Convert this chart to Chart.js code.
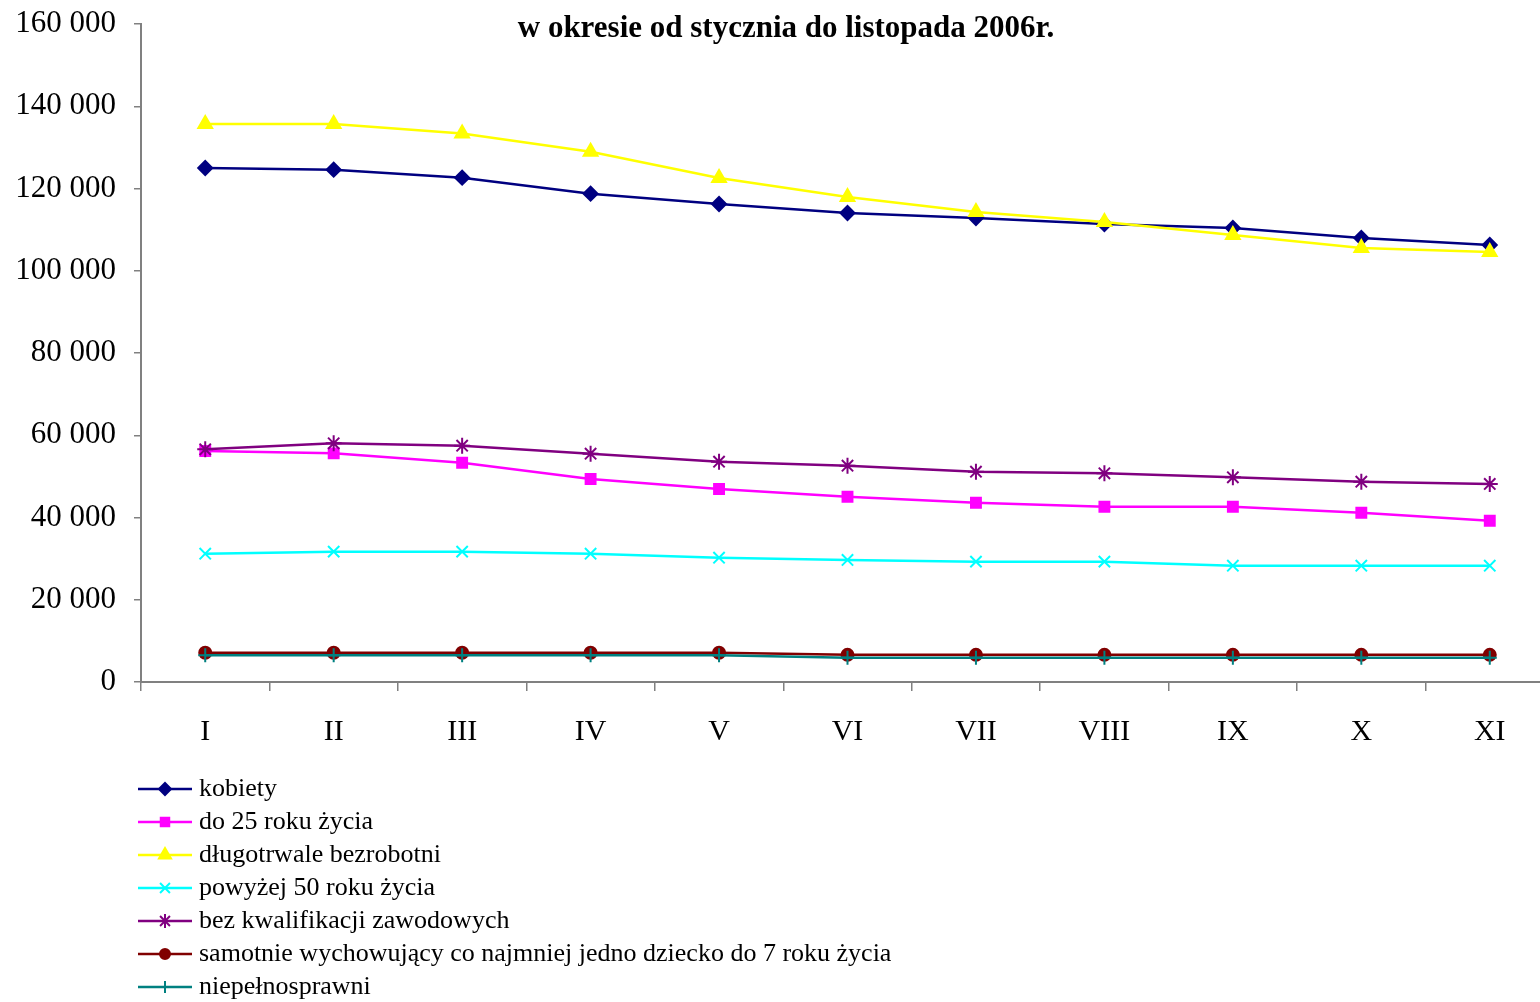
<!DOCTYPE html>
<html lang="pl">
<head>
<meta charset="utf-8">
<title>Bezrobotni w szczególnej sytuacji na rynku pracy 2006</title>
<script src="https://cdn.jsdelivr.net/npm/chart.js@4.4.1/dist/chart.umd.min.js"></script>
<style>
  html, body { margin: 0; padding: 0; background: #fff; overflow: hidden; }
  #wrap { width: 1564px; height: 1002px; }
</style>
</head>
<body>
<div id="wrap"><canvas id="chart" width="1564" height="1002"></canvas></div>
<script>
const months = ['I', 'II', 'III', 'IV', 'V', 'VI', 'VII', 'VIII', 'IX', 'X', 'XI'];

const kobiety = [124980, 124570, 122630, 118740, 116230, 114040, 112830, 111370, 110400, 107960, 106260];
const do25 = [56170, 55600, 53330, 49360, 46930, 45060, 43600, 42630, 42630, 41170, 39220];
const dlugotrwale = [135680, 135680, 133400, 128950, 122550, 117930, 114290, 111850, 108690, 105530, 104560];
const powyzej50 = [31200, 31690, 31690, 31200, 30230, 29670, 29260, 29260, 28280, 28280, 28280];
const bezKwalifikacji = [56580, 58040, 57460, 55510, 53570, 52600, 51140, 50750, 49770, 48710, 48150];
const samotnie = [7100, 7100, 7100, 7100, 7100, 6600, 6600, 6600, 6600, 6600, 6600];
const niepelnosprawni = [6500, 6500, 6500, 6500, 6500, 5900, 5900, 5900, 5900, 5900, 5900];

const seriesNames = [
    'kobiety',
    'do 25 roku życia',
    'długotrwale bezrobotni',
    'powyżej 50 roku życia',
    'bez kwalifikacji zawodowych',
    'samotnie wychowujący co najmniej jedno dziecko do 7 roku życia',
    'niepełnosprawni'
];
const seriesValues = [kobiety, do25, dlugotrwale, powyzej50, bezKwalifikacji, samotnie, niepelnosprawni];
const seriesColors = ['#000080', '#ff00ff', '#ffff00', '#00ffff', '#800080', '#800000', '#008080'];
const seriesMarkers = ['rectRot', 'rect', 'triangle', 'crossRot', 'star', 'circle', 'cross'];
const markerSizes = [7, 7, 8, 8, 8, 6, 7];

const titleText = 'w okresie od stycznia do listopada 2006r.';
const serif = "'Liberation Serif', 'Times New Roman', serif";

const formatThousands = (v) => String(v).replace(/\B(?=(\d{3})+(?!\d))/g, ' ');

const datasets = seriesValues.map((values, i) => ({
    label: seriesNames[i],
    data: values,
    borderColor: seriesColors[i],
    backgroundColor: seriesColors[i],
    pointBackgroundColor: seriesColors[i],
    pointBorderColor: seriesColors[i],
    pointStyle: seriesMarkers[i],
    pointRadius: markerSizes[i],
    pointBorderWidth: 2,
    borderWidth: 2.5,
    tension: 0,
    order: seriesValues.length - i
}));

// title sits inside the plot, like the original
const titlePlugin = {
    id: 'insideTitle',
    afterDraw(chart) {
        const ctx = chart.ctx;
        ctx.save();
        ctx.font = 'bold 31px ' + serif;
        ctx.fillStyle = '#000';
        ctx.textAlign = 'center';
        ctx.textBaseline = 'middle';
        ctx.fillText(titleText, 786, 29);
        ctx.restore();
    }
};

// one entry per row under the axis
const keyPlugin = {
    id: 'rowKey',
    afterDraw(chart) {
        const ctx = chart.ctx;
        const top = chart.chartArea.bottom + 107;
        const left = chart.chartArea.left - 3;
        ctx.save();
        chart.data.datasets.forEach((ds, i) => {
            const y = top + i * 33;
            ctx.strokeStyle = ds.borderColor;
            ctx.lineWidth = 2.5;
            ctx.beginPath();
            ctx.moveTo(left, y);
            ctx.lineTo(left + 54, y);
            ctx.stroke();
            ctx.fillStyle = ds.backgroundColor;
            ctx.lineWidth = 2;
            Chart.helpers.drawPoint(ctx, {
                pointStyle: ds.pointStyle,
                radius: ds.pointRadius - 1,
                rotation: 0,
                borderWidth: 2
            }, left + 27, y);
            ctx.fillStyle = '#000';
            ctx.font = '26px ' + serif;
            ctx.textAlign = 'left';
            ctx.textBaseline = 'middle';
            ctx.fillText(ds.label, left + 61, y);
        });
        ctx.restore();
    }
};

new Chart(document.getElementById('chart'), {
    type: 'line',
    data: {
        labels: months,
        datasets: datasets
    },
    options: {
        responsive: false,
        animation: false,
        layout: { padding: { top: 24, right: 2, bottom: 240, left: 0 } },
        plugins: {
            legend: { display: false },
            title: { display: false },
            tooltip: { enabled: false }
        },
        scales: {
            x: {
                offset: true,
                afterFit: (scale) => {
                    scale.height = 80;
                    scale.paddingLeft = 0;
                    scale.paddingRight = 0;
                },
                grid: {
                    offset: true,
                    drawOnChartArea: false,
                    drawTicks: true,
                    tickLength: 9,
                    color: '#808080',
                    lineWidth: 1.5
                },
                border: { display: true, color: '#808080', width: 2 },
                ticks: {
                    color: '#000',
                    padding: 23,
                    maxRotation: 0,
                    font: { family: serif, size: 30 }
                }
            },
            y: {
                min: 0,
                max: 160000,
                afterFit: (scale) => {
                    scale.width = 141;
                    scale.paddingTop = 0;
                    scale.paddingBottom = 0;
                },
                grid: {
                    drawOnChartArea: false,
                    drawTicks: true,
                    tickLength: 7,
                    color: '#808080',
                    lineWidth: 1.5
                },
                border: { display: true, color: '#808080', width: 2 },
                ticks: {
                    stepSize: 20000,
                    color: '#000',
                    padding: 18,
                    font: { family: serif, size: 31 },
                    callback: (v) => formatThousands(v)
                }
            }
        }
    },
    plugins: [titlePlugin, keyPlugin]
});
</script>
</body>
</html>
